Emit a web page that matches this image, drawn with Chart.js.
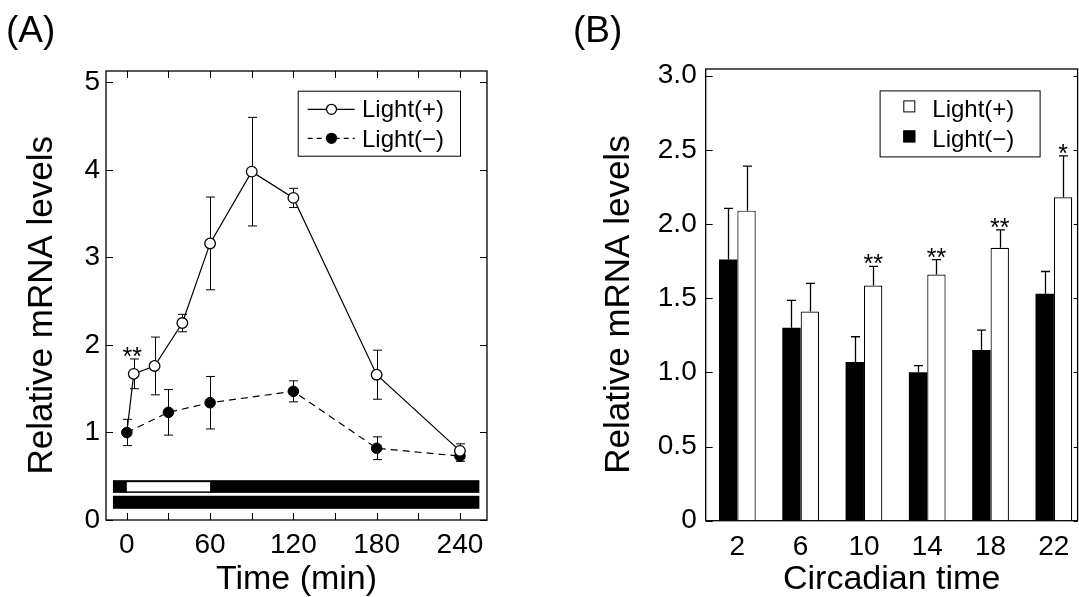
<!DOCTYPE html>
<html><head><meta charset="utf-8">
<script src="https://cdn.jsdelivr.net/npm/chart.js@4.4.1/dist/chart.umd.min.js"></script>
<style>
html,body{margin:0;padding:0;background:#fff;overflow:hidden;width:1079px;height:597px;}
#wa{position:absolute;left:0;top:0;width:545px;height:597px;}
#wb{position:absolute;left:545px;top:0;width:534px;height:597px;}
canvas{display:block;}
</style></head><body>
<div id="wa"><canvas id="ca" width="545" height="597"></canvas></div>
<div id="wb"><canvas id="cb" width="534" height="597"></canvas></div>
<script>
// ---------- Panel A data ----------
const timeMin       = [0, 5, 20, 40, 60, 90, 120, 180, 240];
const lightPlus     = [1.0, 1.67, 1.76, 2.25, 3.16, 3.98, 3.68, 1.66, 0.79];
const lightPlusErr  = [0, 0.17, 0.33, 0.10, 0.53, 0.62, 0.11, 0.28, 0.08];
const timeMinDark   = [0, 30, 60, 120, 180, 240];
const lightMinus    = [1.0, 1.23, 1.34, 1.47, 0.82, 0.73];
const lightMinusErr = [0.15, 0.26, 0.30, 0.12, 0.13, 0.06];
const sigA          = ['', '**', '', '', '', '', '', '', ''];
const xTicksA       = [0, 30, 60, 90, 120, 150, 180, 210, 240];
const xLabelsA      = [0, 60, 120, 180, 240];
const yTicksA       = [0, 1, 2, 3, 4, 5];
const scheduleLightPlus  = [[-10, 0, 'dark'], [0, 60, 'light'], [60, 254, 'dark']];
const scheduleLightMinus = [[-10, 254, 'dark']];

// ---------- Panel B data ----------
const circadianTime    = [2, 6, 10, 14, 18, 22];
const barLightPlus     = [2.09, 1.41, 1.585, 1.66, 1.84, 2.18];
const barLightPlusErr  = [0.30, 0.19, 0.13, 0.10, 0.12, 0.28];
const barLightMinus    = [1.76, 1.30, 1.07, 1.00, 1.15, 1.53];
const barLightMinusErr = [0.345, 0.185, 0.17, 0.045, 0.135, 0.15];
const sigB             = ['', '', '**', '**', '**', '*'];
const yTicksB          = [0, 0.5, 1, 1.5, 2, 2.5, 3];

const FONT = "'Liberation Sans', Arial, sans-serif";
Chart.defaults.font.family = FONT;
Chart.defaults.color = '#000';
const Y_TITLE = 'Relative mRNA levels\u00A0\u00A0';

function frameAndTicks(chart, o) {
  const {ctx, chartArea: {left, right, top, bottom}, scales: {x, y}} = chart;
  ctx.save();
  ctx.strokeStyle = '#000';
  ctx.lineWidth = 1.3;
  ctx.strokeRect(left, top, right - left, bottom - top);
  ctx.lineWidth = 1;
  ctx.beginPath();
  if (o.xTicks) {
    x.ticks.forEach(t => {
      const px = Math.round(x.getPixelForValue(t.value)) + 0.5;
      ctx.moveTo(px, bottom); ctx.lineTo(px, bottom - o.len);
      ctx.moveTo(px, top); ctx.lineTo(px, top + o.len);
    });
  }
  y.ticks.forEach(t => {
    const py = Math.round(y.getPixelForValue(t.value)) + 0.5;
    ctx.moveTo(left, py); ctx.lineTo(left + o.len, py);
    ctx.moveTo(right, py); ctx.lineTo(right - o.rlen, py);
  });
  ctx.stroke();
  ctx.restore();
}

function panelLabel(ctx, text, x, y) {
  ctx.save();
  ctx.fillStyle = '#000';
  ctx.font = "37px " + FONT;
  ctx.textBaseline = 'alphabetic';
  ctx.textAlign = 'left';
  ctx.fillText(text, x, y);
  ctx.restore();
}

// ---------------- Panel A ----------------
const pluginA = {
  id: 'pluginA',
  beforeDatasetsDraw(chart) {
    const {ctx, scales: {x, y}} = chart;
    ctx.save();
    const drawRow = (sched, v0, v1) => {
      const pt = y.getPixelForValue(v1), pb = y.getPixelForValue(v0);
      const xs = x.getPixelForValue(sched[0][0]);
      const xe = x.getPixelForValue(sched[sched.length - 1][1]);
      ctx.fillStyle = '#000';
      ctx.fillRect(xs, pt, xe - xs, pb - pt);
      sched.forEach(([a, b, k]) => {
        if (k === 'light') {
          const pa = x.getPixelForValue(a), pb2 = x.getPixelForValue(b);
          ctx.fillStyle = '#fff';
          ctx.fillRect(pa, pt + 2, pb2 - pa, pb - pt - 3.5);
        }
      });
    };
    drawRow(scheduleLightPlus, 0.31, 0.455);
    drawRow(scheduleLightMinus, 0.128, 0.277);
    // error bars
    ctx.strokeStyle = '#000';
    ctx.lineWidth = 1;
    const series = [[timeMin, lightPlus, lightPlusErr], [timeMinDark, lightMinus, lightMinusErr]];
    series.forEach(([ts, vs, es]) => {
      ts.forEach((t, i) => {
        if (!es[i]) return;
        const px = Math.round(x.getPixelForValue(t)) + 0.5;
        const pT = y.getPixelForValue(vs[i] + es[i]);
        const pB = y.getPixelForValue(vs[i] - es[i]);
        ctx.beginPath();
        ctx.moveTo(px, pT); ctx.lineTo(px, pB);
        ctx.moveTo(px - 4.5, pT); ctx.lineTo(px + 4.5, pT);
        ctx.moveTo(px - 4.5, pB); ctx.lineTo(px + 4.5, pB);
        ctx.stroke();
      });
    });
    ctx.restore();
  },
  afterDraw(chart) {
    const {ctx, chartArea: ca, scales: {x, y}} = chart;
    frameAndTicks(chart, {xTicks: true, len: 7, rlen: 7});
    ctx.save();
    // significance marks
    ctx.fillStyle = '#000';
    ctx.font = "25px " + FONT;
    ctx.textAlign = 'center';
    ctx.textBaseline = 'alphabetic';
    sigA.forEach((s, i) => {
      if (!s) return;
      const px = x.getPixelForValue(timeMin[i]);
      const py = y.getPixelForValue(lightPlus[i] + lightPlusErr[i]);
      ctx.fillText(s, px - 1.5, py + 6);
    });
    // legend
    const bx = ca.right - 189.3, by = ca.top + 19.7, bw = 162.3, bh = 65;
    ctx.fillStyle = '#fff';
    ctx.fillRect(bx, by, bw, bh);
    ctx.strokeStyle = '#000';
    ctx.lineWidth = 1;
    ctx.strokeRect(bx + 0.5, by + 0.5, bw, bh);
    const rows = [
      {label: 'Light(+)', dash: [], fill: '#fff', dy: 18.6, base: 26.3},
      {label: 'Light(\u2212)', dash: [5, 4], fill: '#000', dy: 47.6, base: 55.8}
    ];
    rows.forEach(r => {
      const ry = by + r.dy;
      ctx.setLineDash(r.dash);
      ctx.lineWidth = 1.2;
      ctx.beginPath();
      ctx.moveTo(bx + 10, ry); ctx.lineTo(bx + 57, ry);
      ctx.stroke();
      ctx.setLineDash([]);
      ctx.beginPath();
      ctx.arc(bx + 33.8, ry, 5, 0, Math.PI * 2);
      ctx.fillStyle = r.fill;
      ctx.fill();
      ctx.lineWidth = 1.3;
      ctx.stroke();
      ctx.fillStyle = '#000';
      ctx.font = "24px " + FONT;
      ctx.textAlign = 'left';
      ctx.fillText(r.label, bx + 64.3, by + r.base);
    });
    ctx.restore();
    panelLabel(ctx, '(A)', 6, 42);
  }
};

new Chart(document.getElementById('ca'), {
  type: 'line',
  data: {
    datasets: [
      {
        label: 'Light(+)',
        data: timeMin.map((t, i) => ({x: t, y: lightPlus[i]})),
        borderColor: '#000', borderWidth: 1.2,
        pointBackgroundColor: '#fff', pointBorderColor: '#000',
        pointBorderWidth: 1.3,
        pointRadius: timeMin.map(t => t === 0 ? 0 : 5.3),
        tension: 0, fill: false
      },
      {
        label: 'Light(\u2212)',
        data: timeMinDark.map((t, i) => ({x: t, y: lightMinus[i]})),
        borderColor: '#000', borderWidth: 1.2, borderDash: [7, 5],
        pointBackgroundColor: '#000', pointBorderColor: '#000',
        pointBorderWidth: 1, pointRadius: 5.3,
        tension: 0, fill: false
      }
    ]
  },
  options: {
    responsive: false, animation: false, devicePixelRatio: 1,
    layout: {padding: {left: 0, top: 71, right: 58, bottom: 0}},
    plugins: {legend: {display: false}, tooltip: {enabled: false}},
    scales: {
      x: {
        type: 'linear', min: -15, max: 259.5,
        grid: {display: false, drawTicks: false, tickLength: 0},
        border: {display: false},
        afterBuildTicks: s => { s.ticks = xTicksA.map(v => ({value: v})); },
        afterFit: s => { s.height = 77; },
        ticks: {
          font: {size: 28}, padding: 8, maxRotation: 0, autoSkip: false,
          callback: v => xLabelsA.includes(v) ? String(v) : ''
        },
        title: {display: true, text: 'Time (min)', font: {size: 34}, padding: {top: 0, bottom: -3}}
      },
      y: {
        type: 'linear', min: 0, max: 5.13,
        grid: {display: false, drawTicks: false, tickLength: 0},
        border: {display: false},
        afterBuildTicks: s => { s.ticks = yTicksA.map(v => ({value: v})); },
        afterFit: s => { s.width = 106; },
        ticks: {font: {size: 28}, padding: 6, callback: v => String(v)},
        title: {display: true, text: Y_TITLE, font: {size: 35}, padding: {top: 21, bottom: 0}}
      }
    }
  },
  plugins: [pluginA]
});

// ---------------- Panel B ----------------
const pluginB = {
  id: 'pluginB',
  afterDatasetsDraw(chart) {
    const {ctx, scales: {y}} = chart;
    ctx.save();
    ctx.strokeStyle = '#000';
    ctx.lineWidth = 1.3;
    const errs = [barLightMinusErr, barLightPlusErr];
    const vals = [barLightMinus, barLightPlus];
    chart.data.datasets.forEach((ds, di) => {
      const meta = chart.getDatasetMeta(di);
      meta.data.forEach((bar, i) => {
        const px = Math.round(bar.x) + 0.5;
        const pT = y.getPixelForValue(vals[di][i] + errs[di][i]);
        ctx.beginPath();
        ctx.moveTo(px, bar.y); ctx.lineTo(px, pT);
        ctx.moveTo(px - 4.5, pT); ctx.lineTo(px + 4.5, pT);
        ctx.stroke();
      });
    });
    // significance marks above Light(+) bars
    const metaP = chart.getDatasetMeta(1);
    ctx.fillStyle = '#000';
    ctx.font = "25px " + FONT;
    ctx.textAlign = 'center';
    ctx.textBaseline = 'alphabetic';
    sigB.forEach((s, i) => {
      if (!s) return;
      const bar = metaP.data[i];
      const pT = y.getPixelForValue(barLightPlus[i] + barLightPlusErr[i]);
      ctx.fillText(s, bar.x, pT + 6);
    });
    ctx.restore();
  },
  afterDraw(chart) {
    const {ctx, chartArea: ca} = chart;
    frameAndTicks(chart, {xTicks: false, len: 7, rlen: 4});
    ctx.save();
    const bx = ca.right - 198, by = ca.top + 21.4, bw = 160, bh = 66;
    ctx.fillStyle = '#fff';
    ctx.fillRect(bx, by, bw, bh);
    ctx.strokeStyle = '#000';
    ctx.lineWidth = 1;
    ctx.strokeRect(bx + 0.5, by + 0.5, bw, bh);
    const rows = [
      {label: 'Light(+)', fill: '#fff', dy: 16, base: 27},
      {label: 'Light(\u2212)', fill: '#000', dy: 46, base: 57}
    ];
    rows.forEach(r => {
      const ry = by + r.dy;
      ctx.fillStyle = r.fill;
      ctx.fillRect(bx + 23.7, ry - 6, 12, 12);
      ctx.lineWidth = 1;
      ctx.strokeRect(bx + 24.2, ry - 5.5, 11, 11);
      ctx.fillStyle = '#000';
      ctx.font = "24px " + FONT;
      ctx.textAlign = 'left';
      ctx.textBaseline = 'alphabetic';
      ctx.fillText(r.label, bx + 52.7, by + r.base);
    });
    ctx.restore();
    panelLabel(ctx, '(B)', 28, 42);
  }
};

new Chart(document.getElementById('cb'), {
  type: 'bar',
  data: {
    datasets: [
      {
        label: 'Light(\u2212)',
        data: circadianTime.map((t, i) => ({x: t, y: barLightMinus[i]})),
        backgroundColor: '#000', borderWidth: 0,
        categoryPercentage: 0.58, barPercentage: 1
      },
      {
        label: 'Light(+)',
        data: circadianTime.map((t, i) => ({x: t, y: barLightPlus[i]})),
        backgroundColor: '#fff', borderColor: '#000', borderWidth: 1.2,
        categoryPercentage: 0.58, barPercentage: 1
      }
    ]
  },
  options: {
    responsive: false, animation: false, devicePixelRatio: 1,
    layout: {padding: {left: 0, top: 69, right: 1, bottom: 0}},
    plugins: {legend: {display: false}, tooltip: {enabled: false}},
    scales: {
      x: {
        type: 'linear', min: 0, max: 23.5, offset: false,
        grid: {display: false, drawTicks: false, tickLength: 0},
        border: {display: false},
        afterBuildTicks: s => { s.ticks = circadianTime.map(v => ({value: v})); },
        afterFit: s => { s.height = 76.3; },
        ticks: {font: {size: 28}, padding: 9.5, maxRotation: 0, autoSkip: false, callback: v => String(v)},
        title: {display: true, text: 'Circadian time', font: {size: 34}, padding: {top: 0, bottom: -3}}
      },
      y: {
        type: 'linear', min: 0, max: 3.045,
        grid: {display: false, drawTicks: false, tickLength: 0},
        border: {display: false},
        afterBuildTicks: s => { s.ticks = yTicksB.map(v => ({value: v})); },
        afterFit: s => { s.width = 160.7; },
        ticks: {font: {size: 28}, padding: 9, callback: v => v === 0 ? '0' : v.toFixed(1)},
        title: {display: true, text: Y_TITLE, font: {size: 35}, padding: {top: 53, bottom: 0}}
      }
    }
  },
  plugins: [pluginB]
});
</script>
</body></html>
